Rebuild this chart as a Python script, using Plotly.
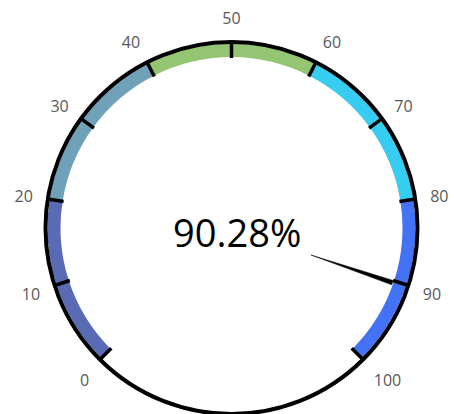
import plotly.graph_objects as go

# Gauge data
value = 90.28
scale_min, scale_max = 0, 100
sweep = 270  # degrees covered by the scale

band_starts = [0, 20, 40, 60, 80]
band_ends = [20, 40, 60, 80, 100]
band_colors = ["#5A6BB6", "#6FA1B9", "#93C572", "#36CDF0", "#4372F5"]

tick_values = [0, 10, 20, 30, 40, 50, 60, 70, 80, 90, 100]
tick_labels = [str(v) for v in tick_values]


def to_deg(v):
    return (v - scale_min) / (scale_max - scale_min) * sweep


W, H = 454, 414
R = 186          # outer radius in px (1 radial unit = 1 px)
CX, CY = 231.5, 228

fig = go.Figure()

# coloured band
fig.add_trace(go.Barpolar(
    theta=[to_deg((a + b) / 2) for a, b in zip(band_starts, band_ends)],
    width=[to_deg(b) - to_deg(a) for a, b in zip(band_starts, band_ends)],
    base=[171] * len(band_starts),
    r=[13] * len(band_starts),
    marker=dict(color=band_colors, line=dict(width=0)),
    hoverinfo="skip",
))

# black tick marks across the band
tick_theta, tick_r = [], []
for v in tick_values:
    tick_theta += [to_deg(v), to_deg(v), None]
    tick_r += [170, R, None]
fig.add_trace(go.Scatterpolar(
    theta=tick_theta, r=tick_r, mode="lines",
    line=dict(color="black", width=3.5),
    hoverinfo="skip", cliponaxis=False,
))

# needle: thin wedge pointing at the value
ang = to_deg(value)
fig.add_trace(go.Scatterpolar(
    theta=[ang, ang - 0.78, ang + 0.78, ang],
    r=[84, 170, 170, 84],
    mode="lines", fill="toself", fillcolor="black",
    line=dict(color="black", width=0.5),
    hoverinfo="skip",
))

fig.update_layout(
    width=W, height=H,
    margin=dict(l=0, r=0, t=0, b=0),
    paper_bgcolor="white",
    showlegend=False,
    polar=dict(
        domain=dict(x=[(CX - R) / W, (CX + R) / W],
                    y=[max(0, (H - CY - R) / H), (H - CY + R) / H]),
        bgcolor="white",
        radialaxis=dict(visible=False, range=[0, R]),
        angularaxis=dict(
            rotation=225, direction="clockwise", thetaunit="degrees",
            showgrid=False,
            showline=True, linecolor="black", linewidth=4,
            tickmode="array",
            tickvals=[to_deg(v) for v in tick_values],
            ticktext=tick_labels,
            # invisible outside ticks only push the labels away from the rim
            ticks="outside", ticklen=10, tickwidth=1, tickcolor="rgba(0,0,0,0)",
            tickfont=dict(family="Open Sans", size=16, color="#595959"),
        ),
    ),
    annotations=[dict(
        text=f"{value:.2f}%", x=236.5 / W, y=1 - 232 / H,
        xref="paper", yref="paper",
        xanchor="center", yanchor="middle", showarrow=False,
        font=dict(family="Open Sans", size=38, color="black"),
    )],
)

# drop the default page margin so the figure fills the window exactly
fig.write_html("out.html", config={"displayModeBar": False},
               post_script="document.body.style.margin = '0';")
